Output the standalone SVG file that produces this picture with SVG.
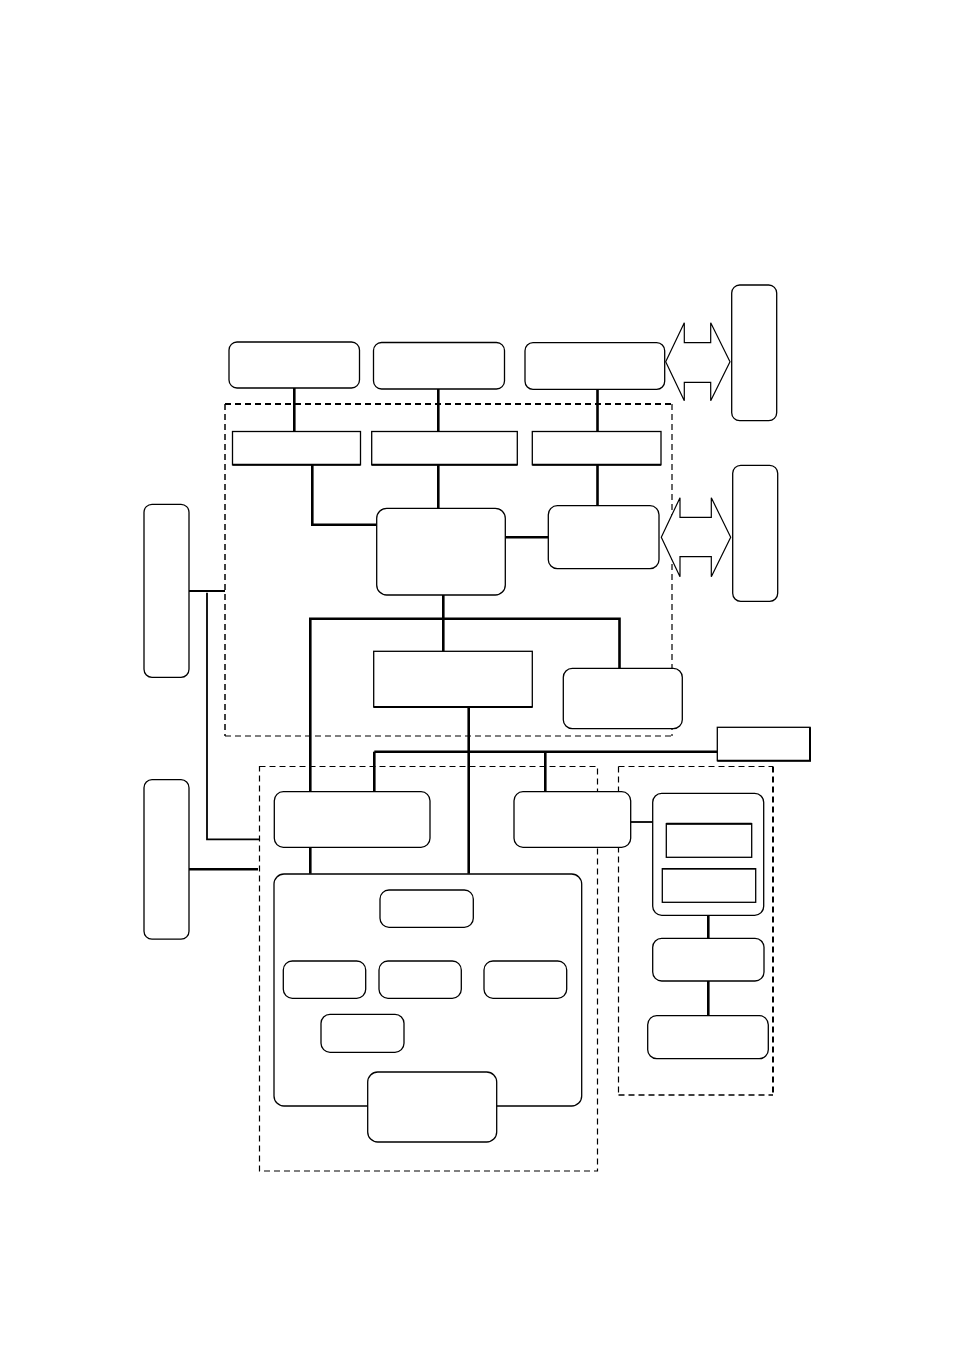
<svg xmlns="http://www.w3.org/2000/svg" width="954" height="1351" viewBox="0 0 954 1351">
<style>
.rb{fill:#fff;stroke:#000;stroke-width:1.3}
.sq{fill:#fff;stroke:#000;stroke-width:1.3}
.c{fill:none;stroke:#000;stroke-width:2.6}
.t{fill:none;stroke:#000;stroke-width:1.8}
.d{fill:none;stroke:#000;stroke-width:1.2;stroke-dasharray:6,4}
.dt{fill:none;stroke:#000;stroke-width:2;stroke-dasharray:6,4}
.ar{fill:#fff;stroke:#000;stroke-width:1.2;stroke-linejoin:miter}
</style>
<rect width="954" height="1351" fill="#fff"/>
<g id="frames">
<line class="dt" x1="225" y1="404" x2="672" y2="404"/>
<line class="d" x1="225" y1="404" x2="225" y2="736" style="stroke-width:1.5"/>
<line class="d" x1="672" y1="404" x2="672" y2="736"/>
<line class="d" x1="225" y1="736" x2="672" y2="736"/>
<rect id="frame-low-left" class="d" x="259.5" y="766.5" width="338" height="404.5"/>
<line class="d" x1="618.5" y1="766.5" x2="773" y2="766.5"/>
<line class="d" x1="618.5" y1="766.5" x2="618.5" y2="1095"/>
<line class="dt" x1="773" y1="766.5" x2="773" y2="1095"/>
<line class="dt" x1="618.5" y1="1095" x2="773" y2="1095" style="stroke-width:1.5"/>
</g>
<g id="connectors">
<line class="c" x1="294.3" y1="388" x2="294.3" y2="431.5"/>
<line class="c" x1="438.3" y1="389" x2="438.3" y2="431.5"/>
<line class="c" x1="597.5" y1="389" x2="597.5" y2="431.5"/>
<polyline class="c" points="312.3,465 312.3,524.7 376.7,524.7"/>
<line class="c" x1="438.3" y1="465" x2="438.3" y2="508.3"/>
<line class="c" x1="597.5" y1="465" x2="597.5" y2="505.7"/>
<line class="c" x1="505.3" y1="537.3" x2="548.3" y2="537.3"/>
<line class="c" x1="443.3" y1="595" x2="443.3" y2="651.3"/>
<polyline class="c" points="310.3,791.7 310.3,618.7 619.5,618.7 619.5,668.3"/>
<line class="c" x1="468.7" y1="707" x2="468.7" y2="873.7"/>
<line class="c" x1="374.3" y1="751.7" x2="717.3" y2="751.7"/>
<line class="c" x1="374.3" y1="751.7" x2="374.3" y2="791.7"/>
<line class="c" x1="545.3" y1="751.7" x2="545.3" y2="791.7"/>
<line class="c" x1="310.3" y1="847.3" x2="310.3" y2="873.7"/>
<line class="t" x1="630.7" y1="822" x2="652.7" y2="822"/>
<line class="c" x1="708.3" y1="915.3" x2="708.3" y2="938.3"/>
<line class="c" x1="708.3" y1="981" x2="708.3" y2="1015.7"/>
<line class="t" x1="189" y1="591" x2="225" y2="591"/>
<polyline class="t" points="207,592.7 207,839.3 259.3,839.3"/>
<line class="c" x1="189" y1="869.3" x2="258" y2="869.3"/>
</g>
<g id="arrow1"><polygon class="ar" points="665.7,361.7 684.3,322.7 684.3,342.7 710.7,342.7 710.7,322.7 730,361.7 710.7,400.7 710.7,382.3 684.3,382.3 684.3,400.7"/></g>
<g id="arrow2"><polygon class="ar" points="661.3,537.3 680,497.7 680,517.3 711.3,517.3 711.3,497.7 730.7,537.3 711.3,576.7 711.3,556.7 680,556.7 680,576.7"/></g>
<g id="top1"><rect class="rb" x="229" y="342" width="130.5" height="46" rx="8"/></g>
<g id="top2"><rect class="rb" x="373.5" y="342.5" width="131" height="46.5" rx="8"/></g>
<g id="top3"><rect class="rb" x="525" y="342.7" width="139.7" height="46.6" rx="8"/></g>
<g id="ext1"><rect class="rb" x="731.7" y="285" width="45" height="135.7" rx="8"/></g>
<g id="ext2"><rect class="rb" x="732.7" y="465.3" width="45" height="136" rx="8"/></g>
<g id="left1"><rect class="rb" x="144" y="504.3" width="45" height="173" rx="8"/></g>
<g id="left2"><rect class="rb" x="144" y="779.7" width="45" height="159.5" rx="8"/></g>
<g id="if1"><rect class="sq" x="232.5" y="431.5" width="128" height="33.3"/><line class="t" x1="232.5" y1="464.8" x2="360.5" y2="464.8" style="stroke-width:2"/></g>
<g id="if2"><rect class="sq" x="371.7" y="431.5" width="145.6" height="33.3"/><line class="t" x1="371.7" y1="464.8" x2="517.3" y2="464.8" style="stroke-width:2"/></g>
<g id="if3"><rect class="sq" x="532.3" y="431.5" width="128.7" height="33.3"/><line class="t" x1="532.3" y1="464.8" x2="661" y2="464.8" style="stroke-width:2"/></g>
<g id="cpu"><rect class="rb" x="376.7" y="508.3" width="128.6" height="86.7" rx="10"/></g>
<g id="side"><rect class="rb" x="548.3" y="505.7" width="110.7" height="63" rx="9"/></g>
<g id="mid"><rect class="sq" x="373.7" y="651.3" width="158.6" height="55.7"/><line class="t" x1="373.7" y1="707" x2="532.3" y2="707" style="stroke-width:2"/></g>
<g id="rbox"><rect class="rb" x="563.3" y="668.3" width="119" height="60.4" rx="9"/></g>
<g id="tag"><rect class="sq" x="717.3" y="727.3" width="92.7" height="33.4"/><polyline class="t" points="717.3,760.7 810,760.7 810,727.3" style="stroke-width:2"/></g>
<g id="boxA"><rect class="rb" x="274.3" y="791.7" width="155.7" height="55.6" rx="9"/></g>
<g id="boxB"><rect class="rb" x="514" y="791.7" width="116.7" height="55.6" rx="9"/></g>
<g id="contC"><rect class="rb" x="652.7" y="793.3" width="111" height="122" rx="9"/>
<rect class="sq" x="666.3" y="823.7" width="85.4" height="33.6"/><line class="t" x1="666.3" y1="823.7" x2="751.7" y2="823.7" style="stroke-width:2"/>
<rect class="sq" x="662.3" y="868.7" width="93.4" height="33.6"/><line class="t" x1="662.3" y1="868.7" x2="755.7" y2="868.7" style="stroke-width:1.6"/></g>
<g id="boxD"><rect class="rb" x="652.7" y="938.3" width="111.3" height="42.7" rx="9"/></g>
<g id="boxE"><rect class="rb" x="647.7" y="1015.7" width="120.6" height="43" rx="9"/></g>
<g id="big"><rect class="rb" x="274" y="874" width="307.7" height="232" rx="10"/></g>
<g id="in1"><rect class="rb" x="380" y="890" width="93.3" height="37.3" rx="9"/></g>
<g id="in2"><rect class="rb" x="283.3" y="961" width="82.4" height="37.3" rx="9"/></g>
<g id="in3"><rect class="rb" x="379" y="961" width="82.3" height="37.3" rx="9"/></g>
<g id="in4"><rect class="rb" x="484" y="961" width="82.7" height="37.3" rx="9"/></g>
<g id="in5"><rect class="rb" x="321" y="1014.3" width="83" height="38" rx="9"/></g>
<g id="in6"><rect class="rb" x="367.7" y="1072" width="129" height="70" rx="10"/></g>
</svg>
